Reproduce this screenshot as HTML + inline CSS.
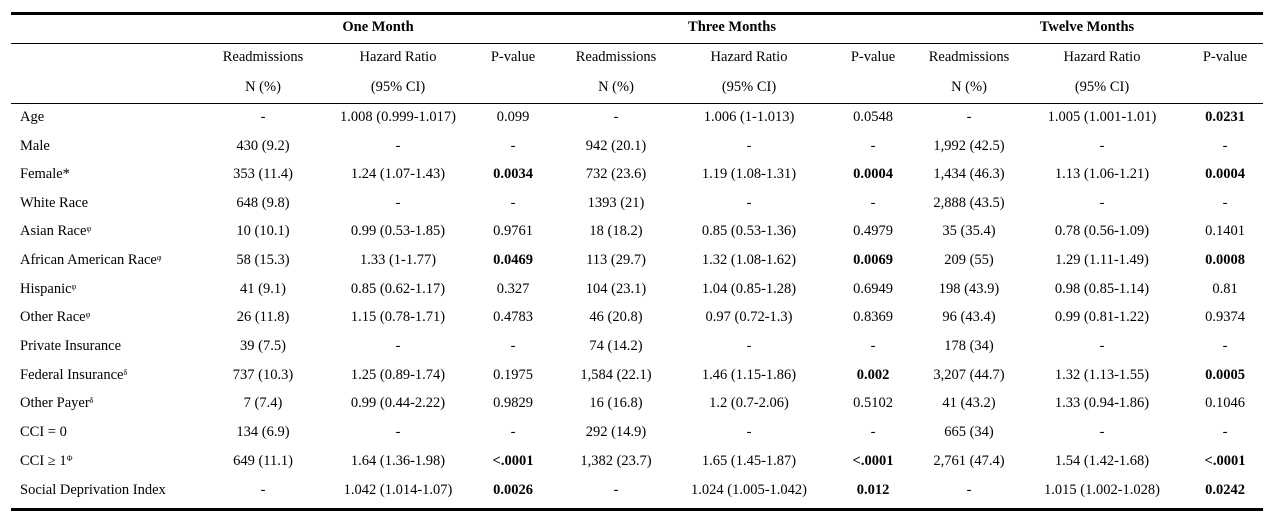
<!DOCTYPE html>
<html><head><meta charset="utf-8"><style>
body{margin:0;width:1270px;height:516px;background:#fff;position:relative;font-family:"Liberation Serif",serif;font-size:14.5px;color:#000;overflow:hidden}
.l{position:absolute;left:11px;width:1252px;background:#000}
.r{position:absolute;left:0;width:1270px;height:20px}
.r span{position:absolute;top:0;white-space:nowrap;transform:translateX(-50%)}
.r span.a{transform:none;left:20px}
b{font-weight:bold}
sup{font-size:8px;vertical-align:4px}
.c1{left:263px}.c2{left:398px}.c3{left:513px}.c4{left:616px}.c5{left:749px}.c6{left:873px}.c7{left:969px}.c8{left:1102px}.c9{left:1225px}
</style></head><body>
<div class="l" style="top:12px;height:3px"></div>
<div class="l" style="top:43px;height:1px"></div>
<div class="l" style="top:103px;height:1px"></div>
<div class="l" style="top:508px;height:3px"></div>
<div class="r" style="top:19px"><span style="left:378px"><b>One Month</b></span><span style="left:732px"><b>Three Months</b></span><span style="left:1087px"><b>Twelve Months</b></span></div>
<div class="r" style="top:49px"><span class="c1">Readmissions</span><span class="c2">Hazard Ratio</span><span class="c3">P-value</span><span class="c4">Readmissions</span><span class="c5">Hazard Ratio</span><span class="c6">P-value</span><span class="c7">Readmissions</span><span class="c8">Hazard Ratio</span><span class="c9">P-value</span></div>
<div class="r" style="top:79px"><span class="c1">N (%)</span><span class="c2">(95% CI)</span><span class="c4">N (%)</span><span class="c5">(95% CI)</span><span class="c7">N (%)</span><span class="c8">(95% CI)</span></div>

<div class="r" style="top:109px"><span class="a">Age</span><span class="c1">-</span><span class="c2">1.008 (0.999-1.017)</span><span class="c3">0.099</span><span class="c4">-</span><span class="c5">1.006 (1-1.013)</span><span class="c6">0.0548</span><span class="c7">-</span><span class="c8">1.005 (1.001-1.01)</span><span class="c9"><b>0.0231</b></span></div>
<div class="r" style="top:138px"><span class="a">Male</span><span class="c1">430 (9.2)</span><span class="c2">-</span><span class="c3">-</span><span class="c4">942 (20.1)</span><span class="c5">-</span><span class="c6">-</span><span class="c7">1,992 (42.5)</span><span class="c8">-</span><span class="c9">-</span></div>
<div class="r" style="top:166px"><span class="a">Female*</span><span class="c1">353 (11.4)</span><span class="c2">1.24 (1.07-1.43)</span><span class="c3"><b>0.0034</b></span><span class="c4">732 (23.6)</span><span class="c5">1.19 (1.08-1.31)</span><span class="c6"><b>0.0004</b></span><span class="c7">1,434 (46.3)</span><span class="c8">1.13 (1.06-1.21)</span><span class="c9"><b>0.0004</b></span></div>
<div class="r" style="top:195px"><span class="a">White Race</span><span class="c1">648 (9.8)</span><span class="c2">-</span><span class="c3">-</span><span class="c4">1393 (21)</span><span class="c5">-</span><span class="c6">-</span><span class="c7">2,888 (43.5)</span><span class="c8">-</span><span class="c9">-</span></div>
<div class="r" style="top:223px"><span class="a">Asian Race<sup>φ</sup></span><span class="c1">10 (10.1)</span><span class="c2">0.99 (0.53-1.85)</span><span class="c3">0.9761</span><span class="c4">18 (18.2)</span><span class="c5">0.85 (0.53-1.36)</span><span class="c6">0.4979</span><span class="c7">35 (35.4)</span><span class="c8">0.78 (0.56-1.09)</span><span class="c9">0.1401</span></div>
<div class="r" style="top:252px"><span class="a">African American Race<sup>φ</sup></span><span class="c1">58 (15.3)</span><span class="c2">1.33 (1-1.77)</span><span class="c3"><b>0.0469</b></span><span class="c4">113 (29.7)</span><span class="c5">1.32 (1.08-1.62)</span><span class="c6"><b>0.0069</b></span><span class="c7">209 (55)</span><span class="c8">1.29 (1.11-1.49)</span><span class="c9"><b>0.0008</b></span></div>
<div class="r" style="top:281px"><span class="a">Hispanic<sup>φ</sup></span><span class="c1">41 (9.1)</span><span class="c2">0.85 (0.62-1.17)</span><span class="c3">0.327</span><span class="c4">104 (23.1)</span><span class="c5">1.04 (0.85-1.28)</span><span class="c6">0.6949</span><span class="c7">198 (43.9)</span><span class="c8">0.98 (0.85-1.14)</span><span class="c9">0.81</span></div>
<div class="r" style="top:309px"><span class="a">Other Race<sup>φ</sup></span><span class="c1">26 (11.8)</span><span class="c2">1.15 (0.78-1.71)</span><span class="c3">0.4783</span><span class="c4">46 (20.8)</span><span class="c5">0.97 (0.72-1.3)</span><span class="c6">0.8369</span><span class="c7">96 (43.4)</span><span class="c8">0.99 (0.81-1.22)</span><span class="c9">0.9374</span></div>
<div class="r" style="top:338px"><span class="a">Private Insurance</span><span class="c1">39 (7.5)</span><span class="c2">-</span><span class="c3">-</span><span class="c4">74 (14.2)</span><span class="c5">-</span><span class="c6">-</span><span class="c7">178 (34)</span><span class="c8">-</span><span class="c9">-</span></div>
<div class="r" style="top:367px"><span class="a">Federal Insurance<sup>δ</sup></span><span class="c1">737 (10.3)</span><span class="c2">1.25 (0.89-1.74)</span><span class="c3">0.1975</span><span class="c4">1,584 (22.1)</span><span class="c5">1.46 (1.15-1.86)</span><span class="c6"><b>0.002</b></span><span class="c7">3,207 (44.7)</span><span class="c8">1.32 (1.13-1.55)</span><span class="c9"><b>0.0005</b></span></div>
<div class="r" style="top:395px"><span class="a">Other Payer<sup>δ</sup></span><span class="c1">7 (7.4)</span><span class="c2">0.99 (0.44-2.22)</span><span class="c3">0.9829</span><span class="c4">16 (16.8)</span><span class="c5">1.2 (0.7-2.06)</span><span class="c6">0.5102</span><span class="c7">41 (43.2)</span><span class="c8">1.33 (0.94-1.86)</span><span class="c9">0.1046</span></div>
<div class="r" style="top:424px"><span class="a">CCI = 0</span><span class="c1">134 (6.9)</span><span class="c2">-</span><span class="c3">-</span><span class="c4">292 (14.9)</span><span class="c5">-</span><span class="c6">-</span><span class="c7">665 (34)</span><span class="c8">-</span><span class="c9">-</span></div>
<div class="r" style="top:453px"><span class="a">CCI ≥ 1<sup>Φ</sup></span><span class="c1">649 (11.1)</span><span class="c2">1.64 (1.36-1.98)</span><span class="c3"><b>&lt;.0001</b></span><span class="c4">1,382 (23.7)</span><span class="c5">1.65 (1.45-1.87)</span><span class="c6"><b>&lt;.0001</b></span><span class="c7">2,761 (47.4)</span><span class="c8">1.54 (1.42-1.68)</span><span class="c9"><b>&lt;.0001</b></span></div>
<div class="r" style="top:482px"><span class="a">Social Deprivation Index</span><span class="c1">-</span><span class="c2">1.042 (1.014-1.07)</span><span class="c3"><b>0.0026</b></span><span class="c4">-</span><span class="c5">1.024 (1.005-1.042)</span><span class="c6"><b>0.012</b></span><span class="c7">-</span><span class="c8">1.015 (1.002-1.028)</span><span class="c9"><b>0.0242</b></span></div>
</body></html>
